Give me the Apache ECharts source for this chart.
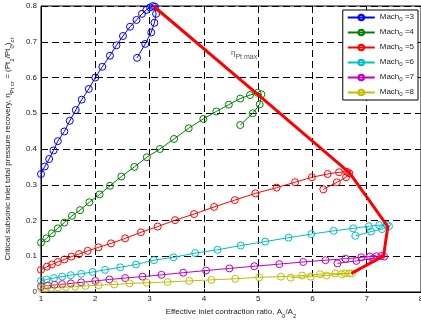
<!DOCTYPE html>
<html>
<head>
<meta charset="utf-8">
<script src="https://cdn.jsdelivr.net/npm/echarts@6/dist/echarts.min.js"></script>
<style>
html,body{margin:0;padding:0;background:#fff}
#chart{width:421px;height:320px}
</style>
</head>
<body>
<div id="chart"></div>
<script>
// Free-stream Mach numbers, one curve each
const machNumbers = [3, 4, 5, 6, 7, 8];

// [effective contraction ratio A0/A2, critical total pressure recovery]
const mach3 = [[1.00,0.330],[1.07,0.351],[1.15,0.372],[1.23,0.396],[1.31,0.422],[1.43,0.449],[1.53,0.479],[1.64,0.509],[1.75,0.538],[1.88,0.568],[2.00,0.600],[2.13,0.630],[2.27,0.661],[2.39,0.690],[2.51,0.716],[2.64,0.742],[2.76,0.761],[2.86,0.778],[2.94,0.789],[3.01,0.796],[3.06,0.800],[3.10,0.798],[3.12,0.778],[3.09,0.753],[3.03,0.726],[2.92,0.694],[2.77,0.655]];
const mach4 = [[1.00,0.138],[1.10,0.150],[1.20,0.164],[1.31,0.178],[1.43,0.194],[1.57,0.213],[1.72,0.229],[1.89,0.251],[2.08,0.273],[2.27,0.297],[2.48,0.323],[2.72,0.350],[2.95,0.377],[3.19,0.400],[3.45,0.428],[3.72,0.458],[3.99,0.484],[4.23,0.505],[4.46,0.524],[4.67,0.541],[4.85,0.551],[4.99,0.557],[5.06,0.553],[5.03,0.525],[4.90,0.500],[4.67,0.467]];
const mach5 = [[1.00,0.062],[1.11,0.071],[1.20,0.077],[1.31,0.084],[1.43,0.091],[1.56,0.099],[1.70,0.106],[1.86,0.115],[2.06,0.125],[2.29,0.136],[2.55,0.150],[2.84,0.167],[3.15,0.183],[3.47,0.201],[3.82,0.218],[4.19,0.238],[4.57,0.257],[4.95,0.276],[5.34,0.292],[5.68,0.307],[5.99,0.321],[6.28,0.330],[6.49,0.335],[6.64,0.336],[6.68,0.332],[6.62,0.321],[6.45,0.307],[6.20,0.287]];
const mach6 = [[1.00,0.031],[1.10,0.035],[1.24,0.039],[1.39,0.043],[1.55,0.047],[1.74,0.051],[1.95,0.056],[2.18,0.062],[2.46,0.069],[2.75,0.077],[3.08,0.089],[3.44,0.097],[3.84,0.109],[4.25,0.118],[4.68,0.130],[5.13,0.141],[5.56,0.152],[5.98,0.162],[6.39,0.171],[6.75,0.178],[7.04,0.184],[7.23,0.187],[7.37,0.188],[7.41,0.184],[7.28,0.176],[7.08,0.169],[6.79,0.157]];
const mach7 = [[1.00,0.016],[1.12,0.018],[1.25,0.020],[1.39,0.022],[1.55,0.024],[1.74,0.027],[2.00,0.031],[2.26,0.035],[2.55,0.039],[2.87,0.043],[3.22,0.048],[3.62,0.054],[4.04,0.060],[4.47,0.066],[4.93,0.072],[5.39,0.078],[5.83,0.084],[6.24,0.089],[6.61,0.093],[6.90,0.097],[7.06,0.099],[7.18,0.100],[7.27,0.101],[7.32,0.099],[7.12,0.094],[6.81,0.087],[6.46,0.080]];
const mach8 = [[1.00,0.010],[1.08,0.010],[1.19,0.012],[1.31,0.013],[1.46,0.014],[1.63,0.015],[1.82,0.017],[2.06,0.019],[2.35,0.021],[2.63,0.024],[2.95,0.026],[3.33,0.028],[3.73,0.031],[4.14,0.034],[4.58,0.037],[5.02,0.041],[5.42,0.043],[5.81,0.046],[6.14,0.050],[6.42,0.052],[6.60,0.052],[6.68,0.052],[6.73,0.052],[6.54,0.050],[6.26,0.046],[5.97,0.043],[5.60,0.040]];

// Locus of maximum recovery through the peak of each curve
const etaPtMax = [[3.07,0.800],[5.03,0.548],[6.68,0.334],[7.39,0.183],[7.31,0.101],[6.72,0.052]];
// Where the locus label sits (data coordinates)
const etaLabelAt = [[4.49, 0.663]];

// Axis ticks
const xTicks = [1, 2, 3, 4, 5, 6, 7, 8];
const yTicks = [0, 0.1, 0.2, 0.3, 0.4, 0.5, 0.6, 0.7, 0.8];

const curves = [mach3, mach4, mach5, mach6, mach7, mach8];
const colors = ['#0000ff', '#008000', '#ff0000', '#00bfbf', '#bf00bf', '#bfbf00'];
const FONT = '"Liberation Sans", Arial, sans-serif';

const chart = echarts.init(document.getElementById('chart'), null, {renderer: 'canvas'});

const subRich = {
  t: {fontSize: 8, fontFamily: FONT, color: '#222', lineHeight: 11, verticalAlign: 'top'},
  s: {fontSize: 6, fontFamily: FONT, color: '#222', lineHeight: 11, verticalAlign: 'bottom', padding: [3, 0, 0, 0]}
};

const seriesList = curves.map((data, i) => ({
  name: 'Mach0 =' + machNumbers[i],
  type: 'line',
  data: data,
  symbol: 'circle',
  symbolSize: 7,
  showSymbol: true,
  lineStyle: {color: colors[i], width: 1},
  itemStyle: {color: 'rgba(0,0,0,0)', borderColor: colors[i], borderWidth: 1},
  emphasis: {disabled: true},
  z: 2
}));

seriesList.push({
  name: 'etaMax',
  type: 'line',
  data: etaPtMax,
  symbol: 'none',
  lineStyle: {color: '#ff0000', width: 3},
  emphasis: {disabled: true},
  z: 3
});

seriesList.push({
  name: 'etaLabel',
  type: 'scatter',
  data: etaLabelAt,
  symbolSize: 1,
  itemStyle: {color: 'rgba(0,0,0,0)'},
  emphasis: {disabled: true},
  silent: true,
  z: 4,
  label: {
    show: true,
    position: 'right',
    distance: 0,
    formatter: '{e|η}{s|Pt max}',
    rich: {
      e: {fontSize: 8, fontFamily: FONT, color: '#222', lineHeight: 12, verticalAlign: 'top'},
      s: {fontSize: 7, fontFamily: FONT, color: '#222', lineHeight: 12, verticalAlign: 'bottom', padding: [3, 0, 0, 0]}
    }
  }
});

chart.setOption({
  animation: false,
  backgroundColor: '#fff',
  grid: {
    left: 41, right: 0, top: 6, bottom: 28,
    outerBoundsMode: 'none',
    containLabel: false,
    show: true, borderColor: '#000', borderWidth: 1
  },
  legend: {
    data: machNumbers.map(m => 'Mach0 =' + m),
    orient: 'vertical',
    right: 3,
    top: 10,
    itemWidth: 27,
    itemHeight: 7,
    itemGap: 6,
    padding: [3, 4, 3, 4],
    backgroundColor: '#fff',
    borderColor: '#000',
    borderWidth: 1,
    selectedMode: false,
    formatter: name => '{t|Mach}{s|0}{t| =' + name.split('=')[1] + '}',
    textStyle: {
      fontSize: 8,
      fontFamily: FONT,
      color: '#222',
      rich: {
        t: {fontSize: 8, fontFamily: FONT, color: '#222', lineHeight: 9, verticalAlign: 'top'},
        s: {fontSize: 6, fontFamily: FONT, color: '#222', lineHeight: 9, verticalAlign: 'bottom', padding: [3, 0, 0, 0]}
      }
    }
  },
  xAxis: {
    type: 'value',
    min: xTicks[0],
    max: xTicks[xTicks.length - 1],
    interval: 1,
    name: '{t|Effective inlet contraction ratio, A}{s|0}{t|/A}{s|2}',
    nameLocation: 'middle',
    nameGap: 13,
    nameTextStyle: {rich: subRich},
    axisLine: {show: true, lineStyle: {color: '#000', width: 1}},
    axisTick: {show: true, inside: true, length: 3, lineStyle: {color: '#000'}},
    axisLabel: {fontSize: 8, fontFamily: FONT, color: '#222', margin: 3},
    splitLine: {show: true, lineStyle: {color: '#000', type: [7, 4], width: 1}}
  },
  yAxis: {
    type: 'value',
    min: yTicks[0],
    max: yTicks[yTicks.length - 1],
    interval: 0.1,
    name: '{t|Critical subsonic inlet total pressure recovery, η}{s|Pt cr}{t| = (Pt}{s|2}{t|/Pt}{s|0}{t|)}{s|cr}',
    nameLocation: 'middle',
    nameRotate: 90,
    nameGap: 24,
    nameTextStyle: {rich: subRich},
    axisLine: {show: true, lineStyle: {color: '#000', width: 1}},
    axisTick: {show: true, inside: true, length: 3, lineStyle: {color: '#000'}},
    axisLabel: {fontSize: 8, fontFamily: FONT, color: '#222', margin: 4},
    splitLine: {show: true, lineStyle: {color: '#000', type: [7, 4], width: 1}}
  },
  series: seriesList
});
</script>
</body>
</html>
